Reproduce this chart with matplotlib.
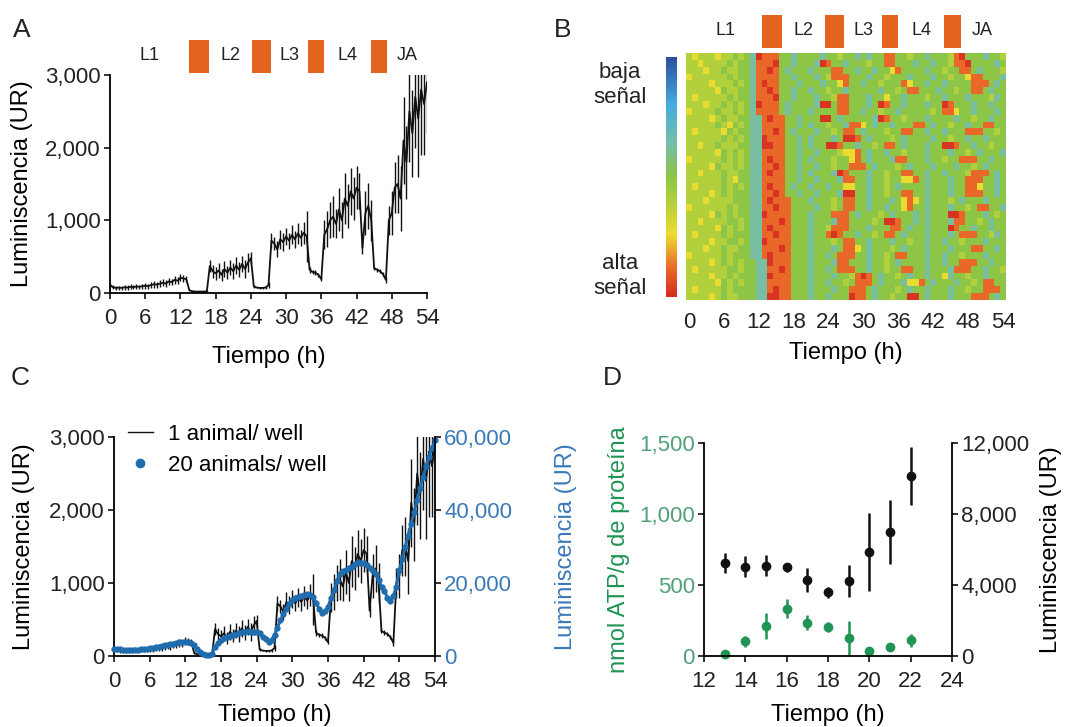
import numpy as np
import matplotlib.pyplot as plt
import matplotlib.transforms as mtransforms
from matplotlib.colors import LinearSegmentedColormap
from matplotlib.lines import Line2D
from matplotlib.patches import Rectangle
from matplotlib.ticker import StrMethodFormatter

plt.rcParams['font.family'] = ['Liberation Sans', 'DejaVu Sans']

# ---------------- data ----------------
hours = np.arange(0, 54.5, 0.5)

# one animal per well, mean luminescence (UR) every 0.5 h
single = [110, 80, 70, 75, 70, 80, 75, 85, 80, 90, 85, 95,
          100, 95, 110, 120, 115, 130, 140, 130, 160, 150, 180, 170,
          210, 200, 190, 40, 25, 20, 20, 20, 20, 25, 370, 300,
          270, 310, 250, 330, 280, 350, 300, 380, 320, 400, 330, 420,
          480, 90, 75, 70, 70, 75, 110, 720, 680, 600, 740, 700,
          780, 720, 800, 740, 820, 760, 830, 780, 320, 290, 280, 250,
          190, 800, 880, 1000, 1050, 950, 1150, 1000, 1300, 1200, 1400, 1300,
          1450, 1400, 620, 1100, 1200, 1000, 340, 320, 300, 260, 180, 1000,
          1100, 1450, 1500, 1300, 2100, 1800, 2500, 2200, 2700, 2400, 2800, 2600,
          2900]
single_err = [30, 25, 30, 28, 30, 35, 30, 32, 30, 35, 30, 35,
              40, 35, 40, 45, 40, 45, 50, 45, 50, 45, 55, 50,
              50, 50, 40, 10, 8, 8, 8, 8, 8, 10, 80, 90,
              90, 100, 80, 110, 90, 100, 110, 120, 100, 110, 120, 130,
              80, 15, 10, 10, 10, 15, 40, 100, 90, 110, 130, 120,
              120, 110, 130, 120, 140, 110, 150, 350, 40, 30, 30, 30,
              30, 200, 250, 250, 280, 200, 300, 250, 350, 300, 320, 300,
              300, 250, 80, 300, 320, 280, 30, 30, 30, 30, 40, 200,
              300, 350, 400, 450, 600, 500, 700, 600, 700, 800, 900, 700,
              700]

# twenty animals per well (right axis of panel C)
group = [2000, 1900, 1800, 1700, 1700, 1650, 1650, 1700, 1750, 1800, 1900, 2000,
         2100, 2300, 2400, 2600, 2700, 2900, 3000, 3200, 3400, 3500, 3700, 3800,
         3900, 3800, 3500, 3000, 1800, 1000, 550, 300, 270, 600, 2500, 3500,
         4400, 4900, 5300, 5600, 5800, 6100, 6300, 6500, 6700, 6800, 6700, 6700,
         6600, 6200, 5300, 4600, 3900, 4500, 5700, 7800, 9800, 11500, 13000, 14300,
         15300, 15800, 16200, 16500, 16700, 16900, 16700, 16300, 14400, 13000, 11700, 12200,
         13500, 15800, 18000, 20500, 22600, 23200, 23600, 24000, 24500, 25200, 25800, 25600,
         25400, 24800, 24000, 23400, 22600, 20800, 19000, 17800, 16000, 15200, 16500, 19000,
         23500, 26500, 30000, 33000, 36300, 39500, 42700, 46000, 49100, 52000, 54600, 57000,
         59200]

stages = ['L1', 'L2', 'L3', 'L4', 'JA']
molts_A = [(13.5, 16.9), (24.2, 27.4), (33.7, 36.5), (44.5, 47.2)]
molts_B = [(12.6, 16.0), (23.4, 26.7), (33.2, 35.9), (43.9, 46.8)]

# heatmap: one string per animal, one letter per hour (0..54)
# r = red (alta), o = orange, y = yellow, l = yellow-green, g = green, c = cyan
heat_rows = [
    "lylllyllgl" "gcroooggcg" "gggcgglggc" "gcggoogglg" "gcggglorgg" "gcggl",
    "llyllllglg" "gcooorggcg" "ggcroggcgg" "glggoogggc" "ggcggloorg" "gggcg",
    "lllyllgllg" "gcoorogcgg" "gcgggooggc" "ggcggyoggg" "gcgglggoog" "cgggl",
    "yllllllglg" "gcooooggcg" "ggcglooogg" "gcgglgggcg" "ggcgglggyo" "ogggc",
    "llllylllgl" "gcoroogggc" "gggcggyogg" "cgglgggoyg" "gcggcggggo" "oogcg",
    "lllllygllg" "gcooroggcg" "gcgglggcgg" "gggcgglgoo" "gggcgglggo" "ogcgg",
    "lylllllglg" "gcooorggcg" "ggcggloogg" "gcggyggcgg" "glggcgggcg" "gglcg",
    "lllyllglgl" "gcrooogcgg" "ggcrrgoogg" "gcgroggcgg" "gcggrogggc" "ggcgg",
    "yllllgllgl" "gcoooogcgg" "gcggggoogg" "cgglggcggg" "gglgooyggc" "gggcg",
    "llllylgllg" "gccorooggc" "gggrrgcggg" "ggcrogglgg" "gcggggcggl" "ggcgg",
    "lllllglygl" "gccooooggc" "gcgglggcoo" "ygcggcgggo" "ogcgglggcg" "googg",
    "lyllllyglg" "gccoorogcg" "ggcgglgoog" "cggglggoog" "gcggcgggoo" "ogglg",
    "llllllglgl" "gccroooggc" "gcgggcgrro" "gcggglgcgg" "ggcgglggcg" "gcggg",
    "llyllglllg" "gccrrooggc" "gcggrroggc" "gglgoogcgg" "gcggrroggc" "gglgg",
    "lllllyglgl" "gccooooggc" "ggcggglyyo" "gcggcgglgg" "gcgggcgglg" "cgggc",
    "ylllllglgl" "gccorooggc" "gcggglggyo" "gcgggcoogg" "gcgglggooo" "ggcgg",
    "llllygllgl" "gccooroggc" "ggcgglggoo" "ogcggglgcg" "ggcgggcggl" "gcggg",
    "llylllgllg" "gccorooggc" "gcgggcrogg" "gcgglggoog" "gcggcggglo" "oogcg",
    "llllllglyg" "gccooooggc" "ggcgggcoog" "gcgglggyyo" "gcgggcggoo" "oggcg",
    "lyllllglgl" "gccoroogcg" "gcggcggyyg" "gcgglgcggg" "gcgggcggoo" "yggcg",
    "llllylglgg" "gccooroggc" "ggcgggcrrg" "gcgglggoog" "gcgggcggoo" "oggcg",
    "lllyllllgg" "gccorooogg" "gcggglgoog" "gcgggcgyoy" "gcggglgcgg" "gcggg",
    "yllllllglg" "gccooroogg" "ggcgglgoog" "gcggcggyog" "gcgggcgglg" "ooggc",
    "llllyglglg" "gccroooogg" "gcgggooogc" "ggglgcgggc" "gcgggrrogg" "gcglg",
    "llyllllggl" "gccooorogg" "gcgggcoogg" "gglgrroggc" "gcgggcoogg" "lgcgg",
    "lllllyglgl" "gccorooogg" "gcgglooogg" "gcgggoogcg" "gcgggroggc" "ggcgg",
    "lyllllglgg" "gccooroogg" "gcggoroggc" "gglgoogcgg" "gcgggcgooo" "gglcg",
    "llllyllggl" "gccroooogg" "gcggglgoog" "gcgggcgglg" "gcggcgglgg" "gcggg",
    "lllyllgllg" "gccooorogg" "gcgggcgooy" "gcggglgcgg" "gcgggcgggo" "oggcg",
    "ylllllglgg" "gccorooogg" "gcggcgooog" "gcgglgoogg" "gcggcgglgg" "gcggg",
    "llllylglgl" "ggccrooogg" "gcgggcoogg" "gcgglgcggg" "gcggcggooo" "ggcgg",
    "lylllllggl" "ggccoorogg" "gcggcgooog" "gcgglggoog" "gcgggcooog" "gcggl",
    "llllyllglg" "ggccrooogg" "gcgggcgglo" "rogcgglgcg" "gcggycgglg" "gcggg",
    "lllllyglgl" "ggccoooogg" "gcggcgglgo" "oogcgggcyy" "ogcgggcggl" "googg",
    "lyllllglgg" "ggccoroogg" "gcgggcggoo" "ogcggglgcg" "gcgggcgglg" "gooog",
    "llllylgllg" "ggccrroogg" "gcggcgggro" "ogcgglggrr" "gcgggcgggo" "oogcg",
]
level = {'r': 0.02, 'o': 0.12, 'y': 0.27, 'l': 0.40, 'g': 0.50, 'c': 0.63}

# panel D
d_hours = [13, 14, 15, 16, 17, 18, 19, 20, 21, 22]
atp = [16, 104, 212, 334, 235, 205, 127, 33, 64, 110]
atp_err = [10, 40, 90, 65, 55, 35, 120, 15, 15, 45]
lum = [5250, 5030, 5090, 4990, 4280, 3580, 4240, 5880, 6970, 10120]
lum_err = [580, 600, 600, 250, 700, 330, 900, 2200, 1800, 1640]

# ---------------- style ----------------
ORANGE = '#e4631f'
BLUE = '#1f6cae'
BLUE_TXT = '#3a7ab8'
GREEN = '#1f9454'
GREEN_TXT = '#52a077'
TICK_FS = 16
LABEL_FS = 17

W, H = 1079, 727


def rect(x0, y0, x1, y1):
    return [x0 / W, 1 - y1 / H, (x1 - x0) / W, (y1 - y0) / H]


def prism(ax, right=False):
    for side in ['top', 'right', 'left', 'bottom']:
        ax.spines[side].set_visible(False)
    ax.spines['bottom'].set_visible(True)
    ax.spines['right' if right else 'left'].set_visible(True)
    for sp in ax.spines.values():
        sp.set_linewidth(1.3)
    ax.tick_params(direction='out', length=4.5, width=1.3, labelsize=TICK_FS,
                   colors='#222222')
    ax.tick_params(axis='x', pad=6)
    ax.tick_params(axis='y', pad=2)


def stage_bar(ax, molts, y0, hgt, ytxt):
    trans = mtransforms.blended_transform_factory(ax.transData, ax.transAxes)
    for s, e in molts:
        ax.add_patch(Rectangle((s, y0), e - s, hgt, transform=trans,
                               color=ORANGE, clip_on=False, lw=0))
    edges = [0] + [v for m in molts for v in m] + [54]
    for i, name in enumerate(stages):
        mid = (edges[2 * i] + edges[2 * i + 1]) / 2
        ax.text(mid, ytxt, name, transform=trans, ha='center', va='center',
                fontsize=13, color='#222222')


def trace(ax):
    ax.errorbar(hours, single, yerr=single_err, color='#111111', lw=1.3,
                elinewidth=1.0, capsize=0)


fig = plt.figure(figsize=(10.79, 7.27), dpi=100)
fmt = StrMethodFormatter('{x:,.0f}')

# ---------------- A ----------------
axA = fig.add_axes(rect(110, 75, 427, 293))
trace(axA)
axA.set_xlim(0, 54)
axA.set_ylim(0, 3000)
axA.set_xticks(range(0, 55, 6))
axA.set_yticks([0, 1000, 2000, 3000])
axA.yaxis.set_major_formatter(fmt)
prism(axA)
axA.set_xlabel('Tiempo (h)', fontsize=LABEL_FS)
axA.set_ylabel('Luminiscencia (UR)', fontsize=LABEL_FS)
axA.xaxis.set_label_coords(0.5, -0.243)
axA.yaxis.set_label_coords(-0.243, 0.5)
stage_bar(axA, molts_A, 1.009, 0.152, 1.09)

# ---------------- B ----------------
axB = fig.add_axes(rect(686, 53, 1006, 300))
grid = np.array([[level[ch] for ch in row[:55].ljust(55, 'g')] for row in heat_rows])
cmap = LinearSegmentedColormap.from_list('signal', [
    (0.00, '#d62a20'), (0.12, '#ea6a2a'), (0.26, '#eedc2e'), (0.40, '#b2cf3c'),
    (0.50, '#8ec646'), (0.63, '#78c0a0'), (0.80, '#45aee0'), (1.00, '#2c4f9f')])
axB.imshow(grid, cmap=cmap, vmin=0, vmax=1, aspect='auto', interpolation='nearest',
           extent=(-0.5, 54.5, len(heat_rows), 0))
for sp in axB.spines.values():
    sp.set_visible(False)
axB.set_xticks(range(0, 55, 6))
axB.set_yticks([])
axB.tick_params(length=0, labelsize=TICK_FS, pad=9, colors='#222222')
axB.set_xlabel('Tiempo (h)', fontsize=LABEL_FS)
axB.xaxis.set_label_coords(0.5, -0.17)
stage_bar(axB, molts_B, 1.02, 0.134, 1.093)

axCb = fig.add_axes(rect(666, 57, 677, 297))
axCb.imshow(np.linspace(0, 1, 256)[:, None], cmap=cmap, aspect='auto', origin='lower')
axCb.set_axis_off()
fig.text(620 / W, 1 - 85 / H, 'baja\nseñal', ha='center', va='center',
         fontsize=16, linespacing=1.3, color='#222222')
fig.text(620 / W, 1 - 276 / H, 'alta\nseñal', ha='center', va='center',
         fontsize=16, linespacing=1.3, color='#222222')

# ---------------- C ----------------
axC = fig.add_axes(rect(114, 437, 435, 656))
trace(axC)
axC.set_xlim(0, 54)
axC.set_ylim(0, 3000)
axC.set_xticks(range(0, 55, 6))
axC.set_yticks([0, 1000, 2000, 3000])
axC.yaxis.set_major_formatter(fmt)
prism(axC)
axC.set_xlabel('Tiempo (h)', fontsize=LABEL_FS)
axC.set_ylabel('Luminiscencia (UR)', fontsize=LABEL_FS)
axC.xaxis.set_label_coords(0.5, -0.219)
axC.yaxis.set_label_coords(-0.246, 0.5)

axC2 = axC.twinx()
axC2.plot(hours, group, color=BLUE, lw=2.2, marker='o', markersize=3.5, clip_on=False)
axC2.set_ylim(0, 60000)
axC2.set_yticks([0, 20000, 40000, 60000])
axC2.yaxis.set_major_formatter(fmt)
prism(axC2, right=True)
axC2.spines['bottom'].set_visible(False)
axC2.tick_params(axis='y', labelcolor=BLUE_TXT)
axC2.set_ylabel('Luminiscencia (UR)', fontsize=LABEL_FS, color=BLUE_TXT, rotation=90)
axC2.yaxis.set_label_coords(1.374, 0.5)

handles = [Line2D([], [], color='#111111', lw=1.0),
           Line2D([], [], color=BLUE, marker='o', ls='none', markersize=6)]
axC2.legend(handles, ['1 animal/ well', '20 animals/ well'], loc='upper left',
            bbox_to_anchor=(0.044, 1.06), frameon=False, fontsize=16,
            handlelength=1.1, handletextpad=0.7, labelspacing=0.45,
            borderaxespad=0, borderpad=0)

# ---------------- D ----------------
axD = fig.add_axes(rect(704, 443, 952, 656))
axD.errorbar(d_hours, atp, yerr=atp_err, fmt='o', color=GREEN, markersize=6,
             elinewidth=1.8, capsize=0, clip_on=False)
axD.set_xlim(12, 24)
axD.set_ylim(0, 1500)
axD.set_xticks(range(12, 25, 2))
axD.set_yticks([0, 500, 1000, 1500])
axD.yaxis.set_major_formatter(fmt)
prism(axD)
axD.tick_params(axis='y', labelcolor=GREEN_TXT)
axD.set_xlabel('Tiempo (h)', fontsize=LABEL_FS)
axD.set_ylabel('nmol ATP/g de proteína', fontsize=LABEL_FS, color=GREEN)
axD.xaxis.set_label_coords(0.5, -0.225)
axD.yaxis.set_label_coords(-0.298, 0.5)

axD2 = axD.twinx()
axD2.errorbar(d_hours, lum, yerr=lum_err, fmt='o', color='#111111', markersize=6,
              elinewidth=1.8, capsize=0)
axD2.set_ylim(0, 12000)
axD2.set_yticks([0, 4000, 8000, 12000])
axD2.yaxis.set_major_formatter(fmt)
prism(axD2, right=True)
axD2.spines['bottom'].set_visible(False)
axD2.set_ylabel('Luminiscencia (UR)', fontsize=LABEL_FS, rotation=90)
axD2.yaxis.set_label_coords(1.355, 0.5)

# panel letters
for letter, x, y in [('A', 22, 30), ('B', 563, 30), ('C', 20, 378), ('D', 612, 378)]:
    fig.text(x / W, 1 - y / H, letter, fontsize=19, ha='center', va='center',
             color='#222222')

fig.savefig('out.png', dpi=100)
